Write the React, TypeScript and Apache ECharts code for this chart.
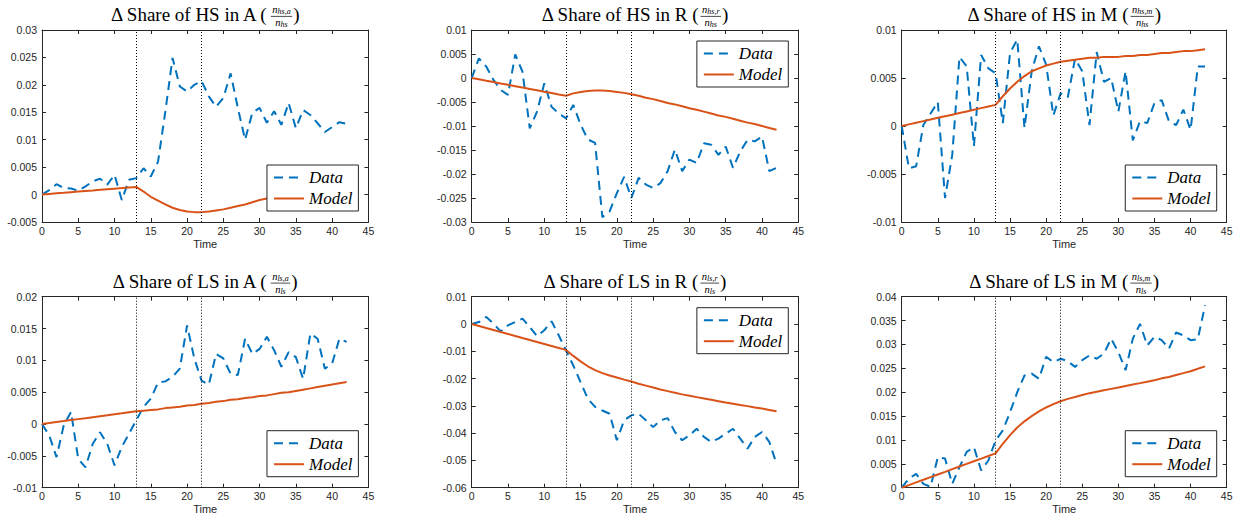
import React, { useEffect, useRef } from "react";
import * as echarts from "echarts";

// ---------- data ----------
const TIME = [0, 1, 2, 3, 4, 5, 6, 7, 8, 9, 10, 11, 12, 13, 14, 15, 16, 17, 18, 19, 20, 21, 22, 23, 24, 25, 26, 27, 28, 29, 30, 31, 32, 33, 34, 35, 36, 37, 38, 39, 40, 41, 42];
const EVENT_TIMES = [13, 22];
const X_TICKS = [0, 45, 5];

const HS_A_DATA = [0, 0.0008, 0.0019, 0.0012, 0.0011, 0.0007, 0.0015, 0.0024, 0.0029, 0.0018, 0.0036, -0.001, 0.0027, 0.003, 0.0048, 0.0033, 0.006, 0.0151, 0.0249, 0.0197, 0.0188, 0.02, 0.0207, 0.0179, 0.016, 0.0176, 0.0221, 0.0158, 0.01, 0.0149, 0.0158, 0.0131, 0.0152, 0.0127, 0.0167, 0.0121, 0.0154, 0.0145, 0.013, 0.0114, 0.0123, 0.0132, 0.0129];
const HS_A_MODEL = [0, 0.00011, 0.00022, 0.00032, 0.00043, 0.00054, 0.00065, 0.00075, 0.00086, 0.00097, 0.00108, 0.00118, 0.00129, 0.0014, 0.00055, -0.0004, -0.0011, -0.0018, -0.0024, -0.0028, -0.0031, -0.0032, -0.0032, -0.0031, -0.0029, -0.0027, -0.0024, -0.0021, -0.0018, -0.0014, -0.001, -0.0007, -0.0004, -0.0001, 0.0002, 0.0005, 0.0008, 0.001, 0.0013, 0.0015, 0.0017, 0.0019, 0.0021];

const HS_R_DATA = [0, 0.0041, 0.0024, -0.0004, -0.0025, -0.0035, 0.0049, 0.0013, -0.0105, -0.007, -0.0011, -0.006, -0.0074, -0.0084, -0.0056, -0.0097, -0.0128, -0.0135, -0.029, -0.0278, -0.024, -0.0206, -0.025, -0.0208, -0.0222, -0.0229, -0.0219, -0.0194, -0.0149, -0.0194, -0.017, -0.0177, -0.0136, -0.0139, -0.016, -0.0143, -0.0187, -0.0153, -0.0129, -0.0132, -0.0122, -0.0194, -0.0187];
const HS_R_MODEL = [0, -0.00028, -0.00057, -0.00085, -0.00114, -0.00142, -0.00171, -0.002, -0.00228, -0.00256, -0.00285, -0.00313, -0.00342, -0.0037, -0.0032, -0.0029, -0.0027, -0.0026, -0.0026, -0.0027, -0.0029, -0.0031, -0.0034, -0.0037, -0.0041, -0.0044, -0.0048, -0.0052, -0.0055, -0.0059, -0.0063, -0.0066, -0.007, -0.0074, -0.0078, -0.0081, -0.0085, -0.0089, -0.0093, -0.0096, -0.01, -0.0104, -0.0108];

const HS_M_DATA = [0, -0.0044, -0.0042, 0.0001, 0.0013, 0.0025, -0.0075, -0.003, 0.0072, 0.0062, -0.0021, 0.0074, 0.006, 0.0055, 0.0003, 0.0076, 0.009, -0.0002, 0.0057, 0.0083, 0.0064, 0.0011, 0.0034, 0.003, 0.007, 0.0057, 0.0001, 0.0077, 0.0046, 0.005, 0.0015, 0.0057, -0.0015, 0.0005, 0.0003, 0.0024, 0.0027, 0.0005, 0.0001, 0.0017, -0.0004, 0.0062, 0.0062];
const HS_M_MODEL = [0, 0.00017, 0.00034, 0.00051, 0.00068, 0.00085, 0.00102, 0.00118, 0.00135, 0.00152, 0.00169, 0.00186, 0.00203, 0.0022, 0.0031, 0.0039, 0.0046, 0.0052, 0.0057, 0.006, 0.0063, 0.0065, 0.0067, 0.0068, 0.0069, 0.007, 0.0071, 0.0071, 0.0072, 0.0072, 0.0072, 0.0073, 0.0073, 0.0074, 0.0074, 0.0075, 0.0076, 0.0076, 0.0077, 0.0078, 0.0078, 0.0079, 0.008];

const LS_A_DATA = [0, -0.0018, -0.0052, -0.0002, 0.0019, -0.0055, -0.0068, -0.0031, -0.0013, -0.0031, -0.0065, -0.0036, -0.0015, 0.0006, 0.0027, 0.004, 0.0065, 0.0067, 0.0074, 0.0087, 0.0155, 0.0103, 0.0068, 0.0062, 0.011, 0.0103, 0.0079, 0.0077, 0.0134, 0.011, 0.0118, 0.0137, 0.0116, 0.009, 0.0113, 0.0105, 0.0071, 0.0142, 0.0134, 0.0087, 0.0095, 0.0134, 0.0129];
const LS_A_MODEL = [0, 0.00015, 0.00031, 0.00046, 0.00062, 0.00077, 0.00092, 0.00108, 0.00123, 0.00138, 0.00154, 0.00169, 0.00185, 0.002, 0.0021, 0.0022, 0.0023, 0.0025, 0.0026, 0.0027, 0.0029, 0.003, 0.0032, 0.0033, 0.0035, 0.0036, 0.0038, 0.0039, 0.0041, 0.0042, 0.0044, 0.0045, 0.0047, 0.0049, 0.005, 0.0052, 0.0054, 0.0056, 0.0058, 0.006, 0.0062, 0.0064, 0.0066];

const LS_R_DATA = [0, 0.0007, 0.0026, 0.0001, -0.0027, -0.0005, 0.0007, 0.002, -0.0011, -0.0045, -0.0023, 0.001, -0.0042, -0.0097, -0.0152, -0.0213, -0.0274, -0.0304, -0.0317, -0.0329, -0.0426, -0.0353, -0.0335, -0.0329, -0.0353, -0.0378, -0.0353, -0.0345, -0.0396, -0.0426, -0.0408, -0.0384, -0.0414, -0.0432, -0.042, -0.0402, -0.0384, -0.042, -0.0457, -0.0414, -0.0396, -0.0432, -0.0512];
const LS_R_MODEL = [0, -0.00073, -0.00146, -0.00219, -0.00292, -0.00365, -0.00438, -0.00512, -0.00585, -0.00658, -0.00731, -0.00804, -0.00877, -0.0095, -0.0117, -0.0137, -0.0155, -0.0169, -0.018, -0.0189, -0.0196, -0.0204, -0.0211, -0.0219, -0.0226, -0.0233, -0.024, -0.0246, -0.0252, -0.0258, -0.0263, -0.0268, -0.0273, -0.0278, -0.0283, -0.0288, -0.0292, -0.0297, -0.0301, -0.0306, -0.031, -0.0315, -0.032];

const LS_M_DATA = [0, 0.0019, 0.0029, 0.0008, 0.0002, 0.0064, 0.0061, 0.0008, 0.0043, 0.0075, 0.0085, 0.0036, 0.0057, 0.0099, 0.012, 0.0158, 0.02, 0.0235, 0.0239, 0.0228, 0.0274, 0.0263, 0.027, 0.0265, 0.0253, 0.0267, 0.0277, 0.027, 0.0281, 0.0312, 0.0284, 0.0246, 0.0312, 0.0343, 0.0298, 0.0316, 0.0309, 0.0291, 0.0325, 0.0319, 0.0309, 0.0311, 0.0382];
const LS_M_MODEL = [0, 0.00055, 0.00111, 0.00166, 0.00222, 0.00277, 0.00332, 0.00388, 0.00443, 0.00498, 0.00554, 0.00609, 0.00665, 0.0072, 0.0092, 0.011, 0.0126, 0.0139, 0.015, 0.016, 0.0168, 0.0175, 0.0181, 0.0186, 0.019, 0.0194, 0.0198, 0.0201, 0.0204, 0.0207, 0.021, 0.0213, 0.0216, 0.0219, 0.0222, 0.0225, 0.0229, 0.0232, 0.0236, 0.024, 0.0244, 0.0249, 0.0254];

// y ranges: [min, max, step]
const Y_HS_A = [-0.005, 0.03, 0.005];
const Y_HS_R = [-0.03, 0.01, 0.005];
const Y_HS_M = [-0.01, 0.01, 0.005];
const Y_LS_A = [-0.01, 0.02, 0.005];
const Y_LS_R = [-0.06, 0.01, 0.01];
const Y_LS_M = [0, 0.04, 0.005];

const TITLES = ["Δ Share of HS in A (", "Δ Share of HS in R (", "Δ Share of HS in M (", "Δ Share of LS in A (", "Δ Share of LS in R (", "Δ Share of LS in M ("];
const FRAC_NUM_SUB = ["hs,a", "hs,r", "hs,m", "ls,a", "ls,r", "ls,m"];
const FRAC_DEN_SUB = ["hs", "hs", "hs", "ls", "ls", "ls"];
const SERIES_NAMES = ["Data", "Model"];

const PANEL_DATA = [HS_A_DATA, HS_R_DATA, HS_M_DATA, LS_A_DATA, LS_R_DATA, LS_M_DATA];
const PANEL_MODEL = [HS_A_MODEL, HS_R_MODEL, HS_M_MODEL, LS_A_MODEL, LS_R_MODEL, LS_M_MODEL];
const PANEL_Y = [Y_HS_A, Y_HS_R, Y_HS_M, Y_LS_A, Y_LS_R, Y_LS_M];

// ---------- layout / style ----------
const W = 1239;
const H = 519;
const COLS = [
  { left: 42, width: 326.4 },
  { left: 471.7, width: 326.6 },
  { left: 901.7, width: 325 },
];
const ROWS = [
  { top: 30, height: 192 },
  { top: 296.7, height: 191 },
];
const LEGEND_TOP = [false, true, false, false, true, false];

const FONT_SANS = '"Liberation Sans", Arial, Helvetica, sans-serif';
const FONT_SERIF = '"Liberation Serif", "Times New Roman", serif';
const AXIS_COLOR = "#262626";
const DATA_COLOR = "#0072BD";
const MODEL_COLOR = "#D95319";

function fmt(v: number) {
  return String(parseFloat(v.toFixed(6)));
}

let measureCtx: CanvasRenderingContext2D | null = null;
function measure(text: string, font: string) {
  if (!measureCtx) measureCtx = document.createElement("canvas").getContext("2d");
  measureCtx!.font = font;
  return measureCtx!.measureText(text).width;
}

function buildOption() {
  const grids: any[] = [];
  const xAxes: any[] = [];
  const yAxes: any[] = [];
  const series: any[] = [];
  const legends: any[] = [];
  const graphics: any[] = [];

  for (let i = 0; i < 6; i++) {
    const col = COLS[i % 3];
    const row = ROWS[Math.floor(i / 3)];
    grids.push({ left: col.left, top: row.top, width: col.width, height: row.height, show: false, containLabel: false });

    const commonX = {
      gridIndex: i,
      type: "value",
      min: X_TICKS[0],
      max: X_TICKS[1],
      interval: X_TICKS[2],
      splitLine: { show: false },
      axisLine: { show: true, onZero: false, lineStyle: { color: AXIS_COLOR, width: 1 } },
      axisTick: { show: true, inside: true, length: 4, lineStyle: { color: AXIS_COLOR, width: 1 } },
    };
    xAxes.push({
      ...commonX,
      position: "bottom",
      axisLabel: { show: true, margin: 3, fontSize: 10.5, fontFamily: FONT_SANS, color: AXIS_COLOR, formatter: (v: number) => fmt(v) },
      name: "Time",
      nameLocation: "middle",
      nameGap: 16,
      nameTextStyle: { fontSize: 11, fontFamily: FONT_SANS, color: AXIS_COLOR },
    });
    xAxes.push({ ...commonX, position: "top", axisLabel: { show: false } });

    const yr = PANEL_Y[i];
    const commonY = {
      gridIndex: i,
      type: "value",
      min: yr[0],
      max: yr[1],
      interval: yr[2],
      splitLine: { show: false },
      axisLine: { show: true, onZero: false, lineStyle: { color: AXIS_COLOR, width: 1 } },
      axisTick: { show: true, inside: true, length: 4, lineStyle: { color: AXIS_COLOR, width: 1 } },
    };
    yAxes.push({
      ...commonY,
      position: "left",
      axisLabel: { show: true, margin: 5, fontSize: 10.5, fontFamily: FONT_SANS, color: AXIS_COLOR, formatter: (v: number) => fmt(v) },
    });
    yAxes.push({ ...commonY, position: "right", axisLabel: { show: false } });

    series.push({
      type: "line",
      name: SERIES_NAMES[0],
      xAxisIndex: 2 * i,
      yAxisIndex: 2 * i,
      data: TIME.map((t, k) => [t, PANEL_DATA[i][k]]),
      symbol: "none",
      showSymbol: false,
      lineStyle: { color: DATA_COLOR, width: 2, type: [9, 6] },
      itemStyle: { color: DATA_COLOR },
      emphasis: { disabled: true },
      z: 2,
      markLine: {
        silent: true,
        symbol: ["none", "none"],
        label: { show: false },
        emphasis: { disabled: true },
        lineStyle: { color: "#000", width: 1, type: [1, 2] },
        data: EVENT_TIMES.map((t) => ({ xAxis: t })),
      },
    });
    series.push({
      type: "line",
      name: SERIES_NAMES[1],
      xAxisIndex: 2 * i,
      yAxisIndex: 2 * i,
      data: TIME.map((t, k) => [t, PANEL_MODEL[i][k]]),
      symbol: "none",
      showSymbol: false,
      lineStyle: { color: MODEL_COLOR, width: 2, type: "solid" },
      itemStyle: { color: MODEL_COLOR },
      emphasis: { disabled: true },
      z: 3,
    });

    const gridRight = col.left + col.width;
    const gridBottom = row.top + row.height;
    const legend: any = {
      data: SERIES_NAMES,
      orient: "vertical",
      right: W - (gridRight - 10),
      itemWidth: 30,
      itemHeight: 14,
      itemGap: 4,
      padding: [4, 6, 4, 6],
      backgroundColor: "#fff",
      borderColor: AXIS_COLOR,
      borderWidth: 1,
      borderRadius: 0,
      selectedMode: false,
      z: 10,
      itemStyle: { opacity: 0, borderWidth: 0 },
      textStyle: { fontFamily: FONT_SERIF, fontStyle: "italic", fontSize: 17, lineHeight: 17, color: "#000" },
    };
    if (LEGEND_TOP[i]) legend.top = row.top + 11;
    else legend.bottom = H - (gridBottom - 11);
    legends.push(legend);

    // ----- title with fraction -----
    const mainSize = 19;
    const mainFont = `${mainSize}px ${FONT_SERIF}`;
    const nSize = 10.5;
    const subSize = 8;
    const nFont = `italic ${nSize}px ${FONT_SERIF}`;
    const subFont = `italic ${subSize}px ${FONT_SERIF}`;
    const wMain = measure(TITLES[i], mainFont);
    const wClose = measure(")", mainFont);
    const wN = measure("n", nFont);
    const wNumSub = measure(FRAC_NUM_SUB[i], subFont);
    const wDenSub = measure(FRAC_DEN_SUB[i], subFont);
    const fracW = Math.max(wN + wNumSub, wN + wDenSub) + 3;
    const total = wMain + 1 + fracW + 1 + wClose;
    const cx = col.left + col.width / 2;
    const x0 = cx - total / 2;
    const base = row.top - 9;
    const c = 0.3375;
    const fx = x0 + wMain + 1;
    const numX = fx + (fracW - (wN + wNumSub)) / 2;
    const denX = fx + (fracW - (wN + wDenSub)) / 2;
    const txt = (text: string, x: number, baseline: number, size: number, italic: boolean) => ({
      type: "text",
      x,
      y: baseline - c * size,
      silent: true,
      style: {
        text,
        fill: "#000",
        fontSize: size,
        fontFamily: FONT_SERIF,
        fontStyle: italic ? "italic" : "normal",
        align: "left",
        verticalAlign: "middle",
        textAlign: "left",
        textVerticalAlign: "middle",
      },
    });
    graphics.push(txt(TITLES[i], x0, base, mainSize, false));
    graphics.push(txt("n", numX, base - 8, nSize, true));
    graphics.push(txt(FRAC_NUM_SUB[i], numX + wN, base - 6.5, subSize, true));
    graphics.push({
      type: "line",
      silent: true,
      shape: { x1: fx, y1: base - 4.6, x2: fx + fracW, y2: base - 4.6 },
      style: { stroke: "#000", lineWidth: 0.7 },
    });
    graphics.push(txt("n", denX, base + 5, nSize, true));
    graphics.push(txt(FRAC_DEN_SUB[i], denX + wN, base + 6.6, subSize, true));
    graphics.push(txt(")", fx + fracW + 1, base, mainSize, false));
  }

  return {
    animation: false,
    backgroundColor: "#fff",
    grid: grids,
    xAxis: xAxes,
    yAxis: yAxes,
    series,
    legend: legends,
    graphic: graphics,
  };
}

export default function App() {
  const ref = useRef<HTMLDivElement>(null);
  useEffect(() => {
    document.body.style.margin = "0";
    if (!ref.current) return;
    const chart = echarts.init(ref.current, undefined, { renderer: "svg" });
    chart.setOption(buildOption() as any);
    return () => chart.dispose();
  }, []);
  return <div ref={ref} style={{ position: "absolute", left: 0, top: 0, width: W, height: H }} />;
}
